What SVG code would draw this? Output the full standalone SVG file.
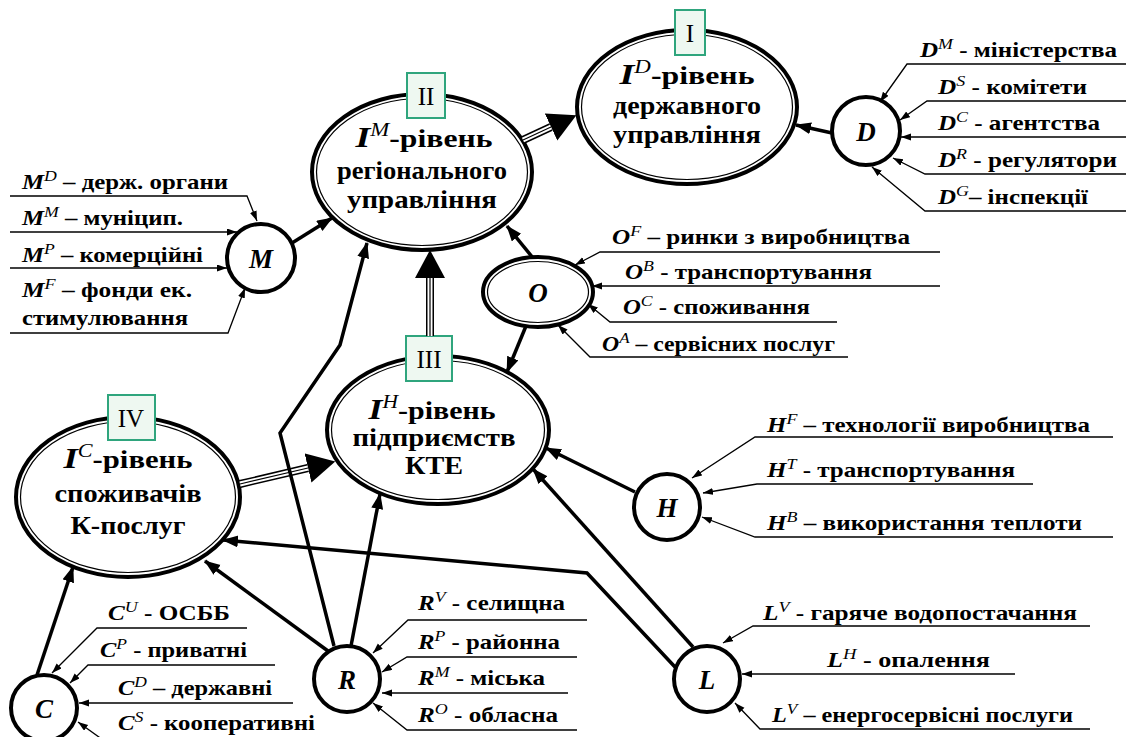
<svg xmlns="http://www.w3.org/2000/svg" width="1126" height="737" viewBox="0 0 1126 737" font-family="Liberation Serif">
<style>
.lbl{font-family:'Liberation Serif',serif;font-size:21px;font-weight:bold}
.big{font-family:'Liberation Serif',serif;font-size:25px;font-weight:bold;text-anchor:middle}
.it{font-style:italic;font-weight:bold}
.sup{font-style:italic;font-weight:normal;font-size:15px}
.supb{font-style:italic;font-weight:normal;font-size:18px}
.letter{font-family:'Liberation Serif',serif;font-size:27px;font-style:italic;font-weight:bold;text-anchor:middle}
.num{font-family:'Liberation Serif',serif;font-size:25px;font-weight:normal;text-anchor:middle}
.box{fill:#eef8f1;stroke:#2fa57d;stroke-width:2}
.eo{fill:#fff;stroke:#000;stroke-width:4}
.ei{fill:none;stroke:#000;stroke-width:1.2}
.circ{fill:#fff;stroke:#000;stroke-width:4}
.thick{fill:none;stroke:#000;stroke-width:3.5;stroke-linejoin:miter;marker-end:url(#ah)}
.thin{fill:none;stroke:#000;stroke-width:1.3;marker-end:url(#as)}
.d1{fill:none;stroke:#000;stroke-width:8;marker-end:url(#ab)}
.d2{fill:none;stroke:#fff;stroke-width:5}
.d3{fill:none;stroke:#000;stroke-width:1.2}
</style>
<defs>
<marker id="ah" markerUnits="userSpaceOnUse" markerWidth="18" markerHeight="14" refX="15" refY="6" orient="auto"><path d="M0,0 L16,6 L0,12 z" fill="#000"/></marker>
<marker id="as" markerUnits="userSpaceOnUse" markerWidth="12" markerHeight="9" refX="10" refY="3.5" orient="auto"><path d="M0,0 L10,3.5 L0,7 z" fill="#000"/></marker>
<marker id="ab" markerUnits="userSpaceOnUse" markerWidth="30" markerHeight="32" refX="0" refY="15" orient="auto"><path d="M0,0 L28,15 L0,30 z" fill="#000"/></marker>
</defs>

<g id="node-I">
<ellipse class="eo" cx="687" cy="107" rx="110" ry="77"/>
<ellipse class="ei" cx="687" cy="107" rx="105.5" ry="72.5"/>
<rect class="box" x="675" y="10" width="30" height="45"/>
<text class="num" x="690" y="42">I</text>
<text class="big" x="687" y="84" textLength="135" lengthAdjust="spacingAndGlyphs"><tspan class="it" font-size="30">I</tspan><tspan class="supb" dy="-11">D</tspan><tspan dy="11">-рівень</tspan></text>
<text class="big" x="687" y="114" textLength="148" lengthAdjust="spacingAndGlyphs">державного</text>
<text class="big" x="687" y="143" textLength="148" lengthAdjust="spacingAndGlyphs">управління</text>
</g>

<g id="node-II">
<ellipse class="eo" cx="422" cy="172" rx="110" ry="78"/>
<ellipse class="ei" cx="422" cy="172" rx="105.5" ry="73.5"/>
<rect class="box" x="407" y="73" width="38" height="45"/>
<text class="num" x="426" y="105">II</text>
<text class="big" x="424" y="147" textLength="137" lengthAdjust="spacingAndGlyphs"><tspan class="it" font-size="30">I</tspan><tspan class="supb" dy="-11">M</tspan><tspan dy="11">-рівень</tspan></text>
<text class="big" x="422" y="179" textLength="170" lengthAdjust="spacingAndGlyphs">регіонального</text>
<text class="big" x="422" y="208" textLength="150" lengthAdjust="spacingAndGlyphs">управління</text>
</g>

<g id="node-III">
<ellipse class="eo" cx="438" cy="430" rx="111" ry="74"/>
<ellipse class="ei" cx="438" cy="430" rx="106.5" ry="69.5"/>
<rect class="box" x="406" y="336" width="46" height="45"/>
<text class="num" x="429" y="368">III</text>
<text class="big" x="432" y="419" textLength="127" lengthAdjust="spacingAndGlyphs"><tspan class="it" font-size="30">I</tspan><tspan class="supb" dy="-11">H</tspan><tspan dy="11">-рівень</tspan></text>
<text class="big" x="434" y="446" textLength="163" lengthAdjust="spacingAndGlyphs">підприємств</text>
<text class="big" x="434" y="474" textLength="58" lengthAdjust="spacingAndGlyphs">КТЕ</text>
</g>

<g id="node-IV">
<ellipse class="eo" cx="128" cy="497" rx="112" ry="80"/>
<ellipse class="ei" cx="128" cy="497" rx="107.5" ry="75.5"/>
<rect class="box" x="108" y="395" width="47" height="45"/>
<text class="num" x="131" y="427">IV</text>
<text class="big" x="128" y="468" textLength="129" lengthAdjust="spacingAndGlyphs"><tspan class="it" font-size="30">I</tspan><tspan class="supb" dy="-11">C</tspan><tspan dy="11">-рівень</tspan></text>
<text class="big" x="128" y="502" textLength="147" lengthAdjust="spacingAndGlyphs">споживачів</text>
<text class="big" x="128" y="534" textLength="115" lengthAdjust="spacingAndGlyphs">К-послуг</text>
</g>

<g id="node-O">
<ellipse class="eo" cx="538" cy="292" rx="55" ry="35"/>
<ellipse class="ei" cx="538" cy="292" rx="50.5" ry="30.5"/>
<text class="letter" x="538" y="302" font-size="30">O</text>
</g>

<g id="node-D">
<circle class="circ" cx="866" cy="131" r="34"/>
<text class="letter" x="866" y="141">D</text>
</g>
<g id="node-M">
<circle class="circ" cx="261" cy="258" r="34"/>
<text class="letter" x="261" y="268">M</text>
</g>
<g id="node-H">
<circle class="circ" cx="667" cy="507" r="33"/>
<text class="letter" x="667" y="517">H</text>
</g>
<g id="node-R">
<circle class="circ" cx="347" cy="679" r="33"/>
<text class="letter" x="347" y="689">R</text>
</g>
<g id="node-L">
<circle class="circ" cx="707" cy="679" r="33"/>
<text class="letter" x="707" y="689">L</text>
</g>
<g id="node-C">
<circle class="circ" cx="44" cy="708" r="33"/>
<text class="letter" x="44" y="718">C</text>
</g>

<g id="labels">
<text class="lbl" x="920" y="57" textLength="197" lengthAdjust="spacingAndGlyphs"><tspan class="it">D</tspan><tspan class="sup" dy="-8">M</tspan><tspan dy="8"> - міністерства</tspan></text>
<text class="lbl" x="938" y="94" textLength="149" lengthAdjust="spacingAndGlyphs"><tspan class="it">D</tspan><tspan class="sup" dy="-8">S</tspan><tspan dy="8"> - комітети</tspan></text>
<text class="lbl" x="938" y="130" textLength="162" lengthAdjust="spacingAndGlyphs"><tspan class="it">D</tspan><tspan class="sup" dy="-8">C</tspan><tspan dy="8"> - агентства</tspan></text>
<text class="lbl" x="938" y="167" textLength="179" lengthAdjust="spacingAndGlyphs"><tspan class="it">D</tspan><tspan class="sup" dy="-8">R</tspan><tspan dy="8"> - регулятори</tspan></text>
<text class="lbl" x="938" y="204" textLength="150" lengthAdjust="spacingAndGlyphs"><tspan class="it">D</tspan><tspan class="sup" dy="-8">G</tspan><tspan dy="8">– інспекції</tspan></text>

<text class="lbl" x="22" y="189" textLength="206" lengthAdjust="spacingAndGlyphs"><tspan class="it">M</tspan><tspan class="sup" dy="-8">D</tspan><tspan dy="8"> – держ. органи</tspan></text>
<text class="lbl" x="22" y="225" textLength="161" lengthAdjust="spacingAndGlyphs"><tspan class="it">M</tspan><tspan class="sup" dy="-8">M</tspan><tspan dy="8"> – муніцип.</tspan></text>
<text class="lbl" x="22" y="262" textLength="181" lengthAdjust="spacingAndGlyphs"><tspan class="it">M</tspan><tspan class="sup" dy="-8">P</tspan><tspan dy="8"> – комерційні</tspan></text>
<text class="lbl" x="22" y="297" textLength="170" lengthAdjust="spacingAndGlyphs"><tspan class="it">M</tspan><tspan class="sup" dy="-8">F</tspan><tspan dy="8"> – фонди ек.</tspan></text>
<text class="lbl" x="22" y="325" textLength="166" lengthAdjust="spacingAndGlyphs">стимулювання</text>

<text class="lbl" x="612" y="244" textLength="298" lengthAdjust="spacingAndGlyphs"><tspan class="it">O</tspan><tspan class="sup" dy="-8">F</tspan><tspan dy="8"> – ринки з виробництва</tspan></text>
<text class="lbl" x="625" y="279" textLength="247" lengthAdjust="spacingAndGlyphs"><tspan class="it">O</tspan><tspan class="sup" dy="-8">B</tspan><tspan dy="8"> - транспортування</tspan></text>
<text class="lbl" x="623" y="314" textLength="187" lengthAdjust="spacingAndGlyphs"><tspan class="it">O</tspan><tspan class="sup" dy="-8">C</tspan><tspan dy="8"> - споживання</tspan></text>
<text class="lbl" x="602" y="351" textLength="233" lengthAdjust="spacingAndGlyphs"><tspan class="it">O</tspan><tspan class="sup" dy="-8">A</tspan><tspan dy="8"> – сервісних послуг</tspan></text>

<text class="lbl" x="767" y="432" textLength="323" lengthAdjust="spacingAndGlyphs"><tspan class="it">H</tspan><tspan class="sup" dy="-8">F</tspan><tspan dy="8"> – технології виробництва</tspan></text>
<text class="lbl" x="767" y="477" textLength="248" lengthAdjust="spacingAndGlyphs"><tspan class="it">H</tspan><tspan class="sup" dy="-8">T</tspan><tspan dy="8"> - транспортування</tspan></text>
<text class="lbl" x="767" y="530" textLength="315" lengthAdjust="spacingAndGlyphs"><tspan class="it">H</tspan><tspan class="sup" dy="-8">B</tspan><tspan dy="8"> – використання теплоти</tspan></text>

<text class="lbl" x="108" y="620" textLength="122" lengthAdjust="spacingAndGlyphs"><tspan class="it">C</tspan><tspan class="sup" dy="-8">U</tspan><tspan dy="8"> - ОСББ</tspan></text>
<text class="lbl" x="100" y="657" textLength="147" lengthAdjust="spacingAndGlyphs"><tspan class="it">C</tspan><tspan class="sup" dy="-8">P</tspan><tspan dy="8"> - приватні</tspan></text>
<text class="lbl" x="118" y="695" textLength="154" lengthAdjust="spacingAndGlyphs"><tspan class="it">C</tspan><tspan class="sup" dy="-8">D</tspan><tspan dy="8"> – державні</tspan></text>
<text class="lbl" x="118" y="730" textLength="197" lengthAdjust="spacingAndGlyphs"><tspan class="it">C</tspan><tspan class="sup" dy="-8">S</tspan><tspan dy="8"> - кооперативні</tspan></text>

<text class="lbl" x="418" y="610" textLength="147" lengthAdjust="spacingAndGlyphs"><tspan class="it">R</tspan><tspan class="sup" dy="-8">V</tspan><tspan dy="8"> - селищна</tspan></text>
<text class="lbl" x="418" y="649" textLength="142" lengthAdjust="spacingAndGlyphs"><tspan class="it">R</tspan><tspan class="sup" dy="-8">P</tspan><tspan dy="8"> - районна</tspan></text>
<text class="lbl" x="418" y="685" textLength="127" lengthAdjust="spacingAndGlyphs"><tspan class="it">R</tspan><tspan class="sup" dy="-8">M</tspan><tspan dy="8"> - міська</tspan></text>
<text class="lbl" x="418" y="722" textLength="140" lengthAdjust="spacingAndGlyphs"><tspan class="it">R</tspan><tspan class="sup" dy="-8">O</tspan><tspan dy="8"> - обласна</tspan></text>

<text class="lbl" x="763" y="620" textLength="314" lengthAdjust="spacingAndGlyphs"><tspan class="it">L</tspan><tspan class="sup" dy="-8">V</tspan><tspan dy="8"> - гаряче водопостачання</tspan></text>
<text class="lbl" x="827" y="667" textLength="163" lengthAdjust="spacingAndGlyphs"><tspan class="it">L</tspan><tspan class="sup" dy="-8">H</tspan><tspan dy="8">  - опалення</tspan></text>
<text class="lbl" x="772" y="722" textLength="301" lengthAdjust="spacingAndGlyphs"><tspan class="it">L</tspan><tspan class="sup" dy="-8">V</tspan><tspan dy="8"> – енергосервісні послуги</tspan></text>
</g>

<g id="connectors">
<path class="d1" d="M523,140 L551,127"/><path class="d2" d="M523,140 L551,127"/><path class="d3" d="M523,140 L551,127"/>
<path class="d1" d="M430,336 L430,278"/><path class="d2" d="M430,336 L430,278"/><path class="d3" d="M430,336 L430,278"/>
<path class="d1" d="M240,484 L308,468"/><path class="d2" d="M240,484 L308,468"/><path class="d3" d="M240,484 L308,468"/>
<path class="thick" d="M832,133 L796,125"/>
<path class="thick" d="M292,243 L332,218"/>
<path class="thick" d="M533,258 L507,226"/>
<path class="thick" d="M526,326 L507,372"/>
<path class="thick" d="M635,492 L546,448"/>
<path class="thick" d="M693,647 L533,469"/>
<path class="thick" d="M675,667 L587,573 L223,540"/>
<path class="thick" d="M328,651 L205,561"/>
<path class="thick" d="M351,646 L380,494"/>
<path class="thick" d="M334,646 L280,433 L340,345 L367,243"/>
<path class="thick" d="M37,675 L73,567"/>
<path class="thin" d="M1126,64 L907,64 L880,102"/>
<path class="thin" d="M1126,101 L927,101 L900,120"/>
<path class="thin" d="M1126,137 L901,137"/>
<path class="thin" d="M1126,174 L925,174 L893,158"/>
<path class="thin" d="M1126,211 L925,211 L872,167"/>
<path class="thin" d="M10,196 L247,196 L257,221"/>
<path class="thin" d="M10,232 L237,232"/>
<path class="thin" d="M10,268 L227,268"/>
<path class="thin" d="M10,333 L228,333 L245,288"/>
<path class="thin" d="M940,252 L600,252 L575,265"/>
<path class="thin" d="M940,286 L592,286"/>
<path class="thin" d="M837,322 L610,322 L588,304"/>
<path class="thin" d="M848,357 L590,357 L558,325"/>
<path class="thin" d="M1113,437 L755,437 L692,478"/>
<path class="thin" d="M1033,484 L757,484 L703,493"/>
<path class="thin" d="M1113,537 L755,537 L702,517"/>
<path class="thin" d="M247,628 L97,628 L52,673"/>
<path class="thin" d="M275,665 L88,665 L70,683"/>
<path class="thin" d="M293,703 L79,703"/>
<path class="thin" d="M110,745 L78,722"/>
<path class="thin" d="M587,620 L408,620 L373,653"/>
<path class="thin" d="M577,657 L407,657 L382,672"/>
<path class="thin" d="M568,693 L382,693"/>
<path class="thin" d="M577,730 L407,730 L373,703"/>
<path class="thin" d="M1090,626 L753,626 L723,643"/>
<path class="thin" d="M1015,674 L742,674"/>
<path class="thin" d="M1090,729 L760,729 L735,703"/>
</g>
</svg>
